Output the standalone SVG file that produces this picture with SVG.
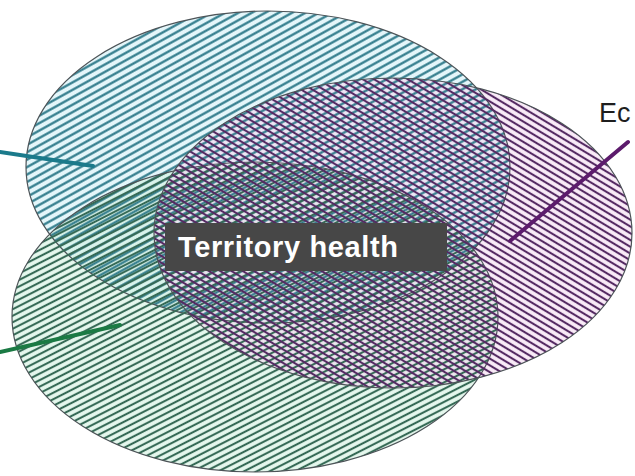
<svg xmlns="http://www.w3.org/2000/svg" width="635" height="476" viewBox="0 0 635 476">
  <defs>
    <pattern id="hBlue" patternUnits="userSpaceOnUse" width="10" height="6.5" patternTransform="rotate(-29)">
      <line x1="-1" y1="3.25" x2="11" y2="3.25" stroke="#2c7888" stroke-width="2.2"/>
    </pattern>
    <pattern id="hGreen" patternUnits="userSpaceOnUse" width="10" height="5.8" patternTransform="rotate(-27)">
      <line x1="-1" y1="2.9" x2="11" y2="2.9" stroke="#366a56" stroke-width="2.1"/>
    </pattern>
    <pattern id="hPurple" patternUnits="userSpaceOnUse" width="10" height="5.8" patternTransform="rotate(31)">
      <line x1="-1" y1="2.9" x2="11" y2="2.9" stroke="#552a63" stroke-width="2.1"/>
    </pattern>
  </defs>
  <style>
    .tint { stroke: none; fill-opacity: 0.55; }
    .outline { stroke: #4d5458; stroke-width: 1.2; }
    .conn { fill: none; stroke-width: 4; stroke-linecap: round; }
    .lbl { font-family: "Liberation Sans", Arial, sans-serif; }
  </style>
  <rect width="635" height="476" fill="#ffffff"/>

  <g id="tints">
    <ellipse class="tint" cx="268" cy="167" rx="242" ry="156" fill="#cdeff5"/>
    <ellipse class="tint" cx="255" cy="317" rx="243" ry="155" fill="#d2f3e0"/>
    <ellipse class="tint" cx="393" cy="233" rx="239" ry="155" fill="#f6dcf3"/>
  </g>

  <g id="node-blue">
    <ellipse class="outline" cx="268" cy="167" rx="242" ry="156" fill="url(#hBlue)"/>
  </g>
  <g id="node-green">
    <ellipse class="outline" cx="255" cy="317" rx="243" ry="155" fill="url(#hGreen)"/>
  </g>
  <g id="node-purple">
    <ellipse class="outline" cx="393" cy="233" rx="239" ry="155" fill="url(#hPurple)"/>
  </g>

  <g id="connectors">
    <line class="conn" x1="0" y1="152" x2="93" y2="166" stroke="#1b7a8b"/>
    <line class="conn" x1="0" y1="352" x2="120" y2="325" stroke="#1b7a44"/>
    <line class="conn" x1="628" y1="142" x2="510" y2="241" stroke="#5c1b6c"/>
  </g>

  <g id="node-territory">
    <rect x="165" y="223" width="282" height="48" fill="#474747"/>
    <text class="lbl" x="178" y="257" font-size="29" font-weight="bold" fill="#ffffff" textLength="220" lengthAdjust="spacing">Territory health</text>
  </g>

  <g id="label-eco">
    <text class="lbl" x="599" y="122" font-size="27" fill="#1e1e1e">Ec</text>
  </g>
</svg>
